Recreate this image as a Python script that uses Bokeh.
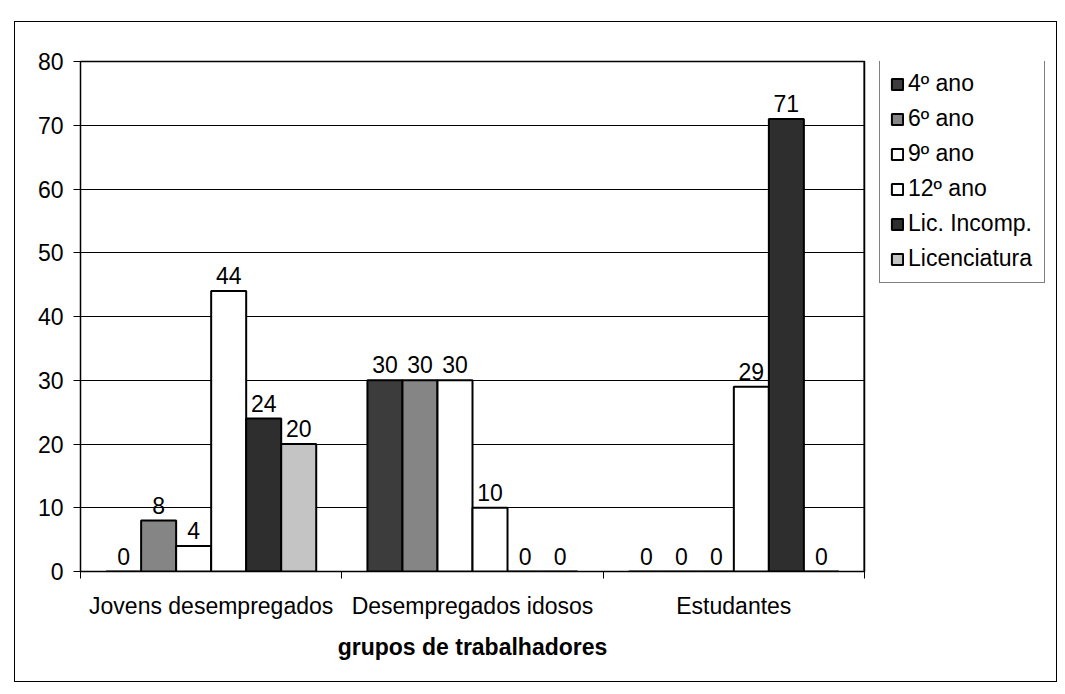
from bokeh.plotting import figure
from bokeh.models import ColumnDataSource, Range1d, FixedTicker, Legend, LegendItem, Spacer, Span
from bokeh.layouts import column, row
from bokeh.transform import dodge
from bokeh.core.properties import value
from bokeh.embed import file_html
from bokeh.resources import INLINE

categories = ["Jovens desempregados", "Desempregados idosos", "Estudantes"]
series = ["4º ano", "6º ano", "9º ano", "12º ano", "Lic. Incomp.", "Licenciatura"]
v_4ano = [0, 30, 0]
v_6ano = [8, 30, 0]
v_9ano = [4, 30, 0]
v_12ano = [44, 10, 29]
v_licinc = [24, 0, 71]
v_lic = [20, 0, 0]
y_ticks = [0, 10, 20, 30, 40, 50, 60, 70, 80]

values = [v_4ano, v_6ano, v_9ano, v_12ano, v_licinc, v_lic]
colors = ["#3c3c3c", "#858585", "#ffffff", "#ffffff", "#2e2e2e", "#c4c4c4"]

FONT = "Liberation Sans"
FS = "23px"
H = 661

xs = [i + 0.5 for i in range(len(categories))]
data = {"x": xs}
for k, vals in enumerate(values):
    data["s%d" % k] = vals
    data["t%d" % k] = [str(v) for v in vals]
src = ColumnDataSource(data)

p = figure(width=857, height=H, x_range=Range1d(0, 3), y_range=Range1d(0, 80),
           output_backend="svg", toolbar_location=None,
           min_border_left=65, min_border_right=8, min_border_top=39, min_border_bottom=112)
p.styles = {"border-top": "1px solid black", "border-left": "1px solid black",
            "border-bottom": "1px solid black"}

# separate narrow figure that only carries the legend
pl = figure(width=186, height=H, x_range=Range1d(0, 1), y_range=Range1d(0, 1),
            output_backend="svg", toolbar_location=None, min_border=0)
pl.styles = {"border-top": "1px solid black", "border-right": "1px solid black",
             "border-bottom": "1px solid black"}
pl.axis.visible = False
pl.grid.grid_line_color = None
pl.outline_line_color = None
# legend-key source: a zero-height key hidden under the opaque legend box
key_src = ColumnDataSource(dict(x=[0.5], top=[0.8], bottom=[0.8]))

bw = 0.134
items = []
for k, name in enumerate(series):
    off = (k - 2.5) * bw
    p.vbar(x=dodge("x", off, range=p.x_range), top="s%d" % k, width=bw, source=src,
           fill_color=colors[k], line_color="black", line_width=2)
    p.text(x=dodge("x", off, range=p.x_range), y="s%d" % k, text="t%d" % k, source=src,
           text_align="center", text_baseline="bottom", y_offset=-7,
           text_font=value(FONT), text_font_size=FS, text_color="black")
    rl = pl.vbar(x="x", top="top", bottom="bottom", width=0.01, source=key_src,
                 fill_color=colors[k], line_color="black", line_width=2)
    items.append(LegendItem(label=name, renderers=[rl]))

legend = Legend(items=items, location=(8, 288), border_line_color="black", border_line_width=1,
                background_fill_color="white", background_fill_alpha=1,
                label_text_font=FONT, label_text_font_size=FS, label_text_color="black",
                glyph_width=14, glyph_height=14, label_standoff=4, padding=10, spacing=8,
                label_height=26, label_width=126, margin=0)
pl.add_layout(legend, "center")

# right edge of the plot area
p.add_layout(Span(location=3, dimension="height", line_color="black", line_width=2))

# axes
p.yaxis.ticker = FixedTicker(ticks=y_ticks)
p.yaxis.major_label_text_font = FONT
p.yaxis.major_label_text_font_size = FS
p.yaxis.major_label_text_color = "black"
p.yaxis.major_tick_out = 7
p.yaxis.major_tick_in = 0
p.yaxis.minor_tick_line_color = None
p.yaxis.major_label_standoff = 10
p.yaxis.axis_line_color = "black"
p.yaxis.major_tick_line_color = "black"

p.xaxis.ticker = FixedTicker(ticks=xs, minor_ticks=list(range(len(categories) + 1)))
p.xaxis.major_label_overrides = {x: c for x, c in zip(xs, categories)}
p.xaxis.major_tick_line_color = None
p.xaxis.major_tick_out = 0
p.xaxis.major_tick_in = 0
p.xaxis.minor_tick_out = 7
p.xaxis.minor_tick_in = 0
p.xaxis.minor_tick_line_color = "black"
p.xaxis.major_label_standoff = 14
p.xaxis.major_label_text_font = FONT
p.xaxis.major_label_text_font_size = FS
p.xaxis.major_label_text_color = "black"
p.xaxis.axis_line_color = "black"
p.xaxis.axis_label = "grupos de trabalhadores"
p.xaxis.axis_label_text_font = FONT
p.xaxis.axis_label_text_font_size = FS
p.xaxis.axis_label_text_font_style = "bold"
p.xaxis.axis_label_text_color = "black"
p.xaxis.axis_label_standoff = 12

p.xgrid.grid_line_color = None
p.ygrid.grid_line_color = "black"
p.ygrid.grid_line_width = 1
p.ygrid.ticker = FixedTicker(ticks=y_ticks)
p.outline_line_color = "black"
p.outline_line_width = 1.5
p.background_fill_color = "white"
p.border_fill_color = "white"

layout = column(Spacer(width=1057, height=21),
                row(Spacer(width=14, height=H), p, pl))

open("out.html", "w").write(file_html(layout, INLINE))
